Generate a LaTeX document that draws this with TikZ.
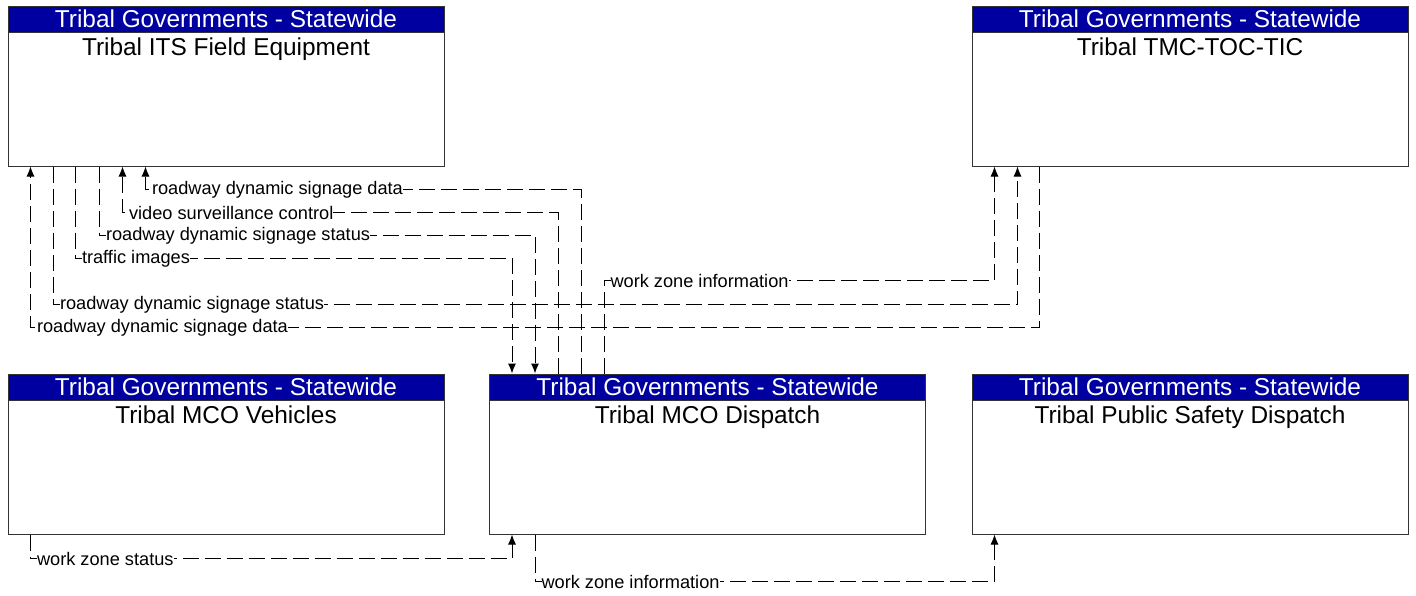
\documentclass[tikz,border=0pt]{standalone}
\usepackage{fontspec}
\setmainfont{Liberation Sans}
\usetikzlibrary{arrows.meta,positioning,calc}
\definecolor{hdrblue}{RGB}{0,0,160}

\begin{document}
\begin{tikzpicture}[x=0.5pt,y=-0.5pt,line width=0.5pt,
      sys/.style={draw=black!80,minimum width=218pt,minimum height=80pt,inner sep=0pt},
      hdr/.style={draw=black!80,fill=hdrblue,minimum width=218pt,minimum height=13pt,
                  inner sep=0pt,anchor=north},
      ttl/.style={anchor=base,inner sep=0pt,font=\fontsize{12.2}{14}\selectfont},
      flow/.style={dash pattern=on 8pt off 3pt,-{Latex[length=5pt,width=4pt]}},
      lbl/.style={anchor=west,xshift=3pt,fill=white,inner sep=0pt,
                  font=\fontsize{9.1}{10}\selectfont}]
    \useasboundingbox (0,0) rectangle (1416,595);
    % systems
    \node[sys] (its)  at (226,86)    {};
    \node[sys] (tmc)  at (1190,86)   {};
    \node[sys] (veh)  at (226,454)   {};
    \node[sys] (disp) at (707.5,454) {};
    \node[sys] (psd)  at (1190,454)  {};
    \node[hdr] (its-h)  at (its.north)  {};
    \node[hdr] (tmc-h)  at (tmc.north)  {};
    \node[hdr] (veh-h)  at (veh.north)  {};
    \node[hdr] (disp-h) at (disp.north) {};
    \node[hdr] (psd-h)  at (psd.north)  {};
    \node[ttl,text=white] (its-t)  at ($(its.north)+(0,22)$)  {Tribal Governments - Statewide};
    \node[ttl,text=white] (tmc-t)  at ($(tmc.north)+(0,22)$)  {Tribal Governments - Statewide};
    \node[ttl,text=white] (veh-t)  at ($(veh.north)+(0,22)$)  {Tribal Governments - Statewide};
    \node[ttl,text=white] (disp-t) at ($(disp.north)+(0,22)$) {Tribal Governments - Statewide};
    \node[ttl,text=white] (psd-t)  at ($(psd.north)+(0,22)$)  {Tribal Governments - Statewide};
    \node[ttl] (its-n)  at ($(its.north)+(0,49.5)$)  {Tribal ITS Field Equipment};
    \node[ttl] (tmc-n)  at ($(tmc.north)+(0,49.5)$)  {Tribal TMC-TOC-TIC};
    \node[ttl] (veh-n)  at ($(veh.north)+(0,49.5)$)  {Tribal MCO Vehicles};
    \node[ttl] (disp-n) at ($(disp.north)+(0,49.5)$) {Tribal MCO Dispatch};
    \node[ttl] (psd-n)  at ($(psd.north)+(0,49.5)$)  {Tribal Public Safety Dispatch};
    % flows
    \draw[flow] ($(disp.north west)+(92,0)$) |- ($(its.south west)+(138,23)$)
      node[lbl]{roadway dynamic signage data} -- ($(its.south west)+(138,0)$);
    \draw[flow] ($(disp.north west)+(69,0)$) |- ($(its.south west)+(115,46)$)
      node[lbl]{video surveillance control} -- ($(its.south west)+(115,0)$);
    \draw[flow] ($(its.south west)+(92,0)$) -- ($(its.south west)+(92,69)$)
      node[lbl]{roadway dynamic signage status} -| ($(disp.north west)+(46,0)$);
    \draw[flow] ($(its.south west)+(68,0)$) -- ($(its.south west)+(68,92)$)
      node[lbl]{traffic images} -| ($(disp.north west)+(23,0)$);
    \draw[flow] ($(disp.north west)+(115,0)$) -- ($(disp.north west)+(115,-93)$)
      node[lbl]{work zone information} -| ($(tmc.south west)+(23,0)$);
    \draw[flow] ($(its.south west)+(46,0)$) -- ($(its.south west)+(46,138)$)
      node[lbl]{roadway dynamic signage status} -| ($(tmc.south west)+(46,0)$);
    \draw[flow] ($(tmc.south west)+(68,0)$) |- ($(its.south west)+(23,161)$)
      node[lbl]{roadway dynamic signage data} -- ($(its.south west)+(23,0)$);
    \draw[flow] ($(veh.south west)+(23,0)$) -- ($(veh.south west)+(23,24)$)
      node[lbl]{work zone status} -| ($(disp.south west)+(23,0)$);
    \draw[flow] ($(disp.south west)+(46,0)$) -- ($(disp.south west)+(46,47)$)
      node[lbl]{work zone information} -| ($(psd.south west)+(23,0)$);
  \end{tikzpicture}
\end{document}
